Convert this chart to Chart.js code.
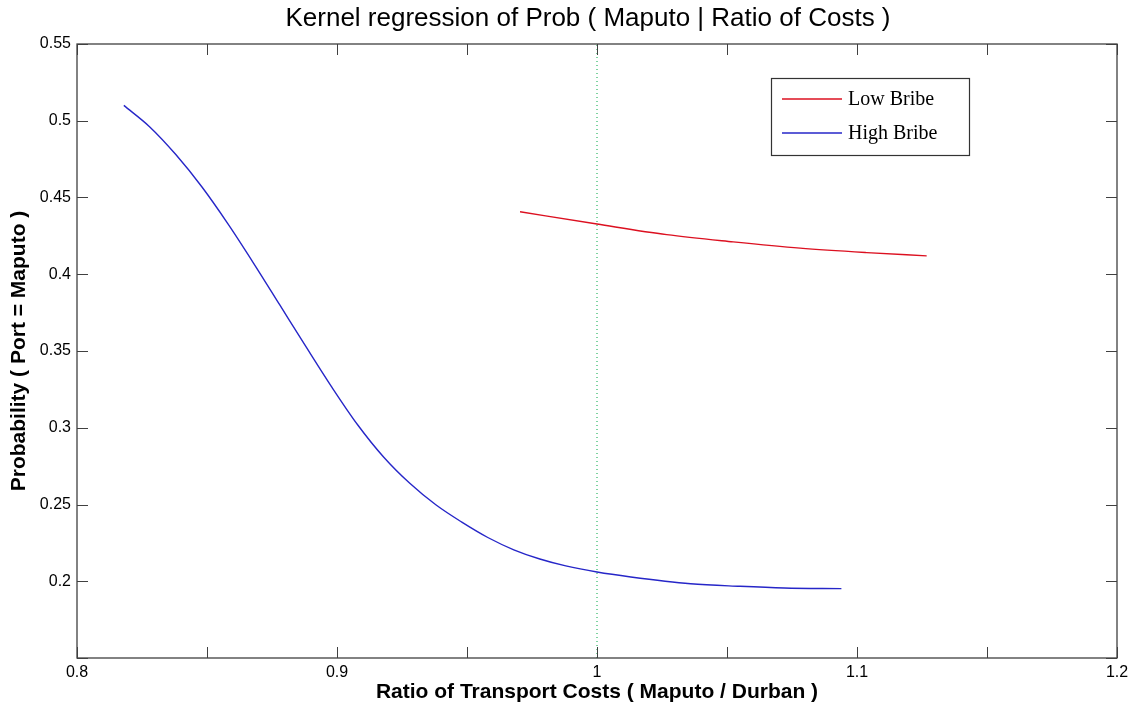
<!DOCTYPE html>
<html>
<head>
<meta charset="utf-8">
<script src="https://cdn.jsdelivr.net/npm/chart.js@4.4.0/dist/chart.umd.min.js"></script>
<style>
  html, body { margin: 0; padding: 0; background: #fff; }
  #wrap { width: 1141px; height: 713px; }
</style>
</head>
<body>
<div id="wrap"><canvas id="kernelChart" width="1141" height="713"></canvas></div>
<script>
// values
const highBribeX = [0.818, 0.828, 0.838, 0.848, 0.858, 0.868, 0.878, 0.888, 0.898, 0.908, 0.918, 0.928, 0.938, 0.948, 0.958, 0.968, 0.978, 0.988, 1.0, 1.013, 1.036, 1.055, 1.072, 1.094];
const highBribeY = [0.510, 0.496, 0.478, 0.457, 0.433, 0.407, 0.380, 0.353, 0.3265, 0.3018, 0.2808, 0.2638, 0.2498, 0.2385, 0.2285, 0.2205, 0.2145, 0.2100, 0.2060, 0.2028, 0.1984, 0.1967, 0.1956, 0.1952];
const lowBribeX = [0.9704, 1.0, 1.0268, 1.0524, 1.0781, 1.1037, 1.1268];
const lowBribeY = [0.4407, 0.4327, 0.4258, 0.4211, 0.4170, 0.4141, 0.4120];
const refLineX = [1.0, 1.0];
const refLineY = [0.15, 0.55];
const seriesNames = ['Low Bribe', 'High Bribe'];
const xTicks = [0.8, 0.85, 0.9, 0.95, 1.0, 1.05, 1.1, 1.15, 1.2];
const xLabels = ['0.8', '', '0.9', '', '1', '', '1.1', '', '1.2'];
const yTicks = [0.15, 0.2, 0.25, 0.3, 0.35, 0.4, 0.45, 0.5, 0.55];
const yLabels = ['', '0.2', '0.25', '0.3', '0.35', '0.4', '0.45', '0.5', '0.55'];

const RED = '#dc1020';
const BLUE = '#2626c8';
const FONT = '"Liberation Sans", Arial, sans-serif';

function toPoints(xs, ys) {
    return xs.map((x, i) => ({ x: x, y: ys[i] }));
}

// MATLAB style box, inward ticks, title and legend
const matlabAxes = {
    id: 'matlabAxes',
    afterDraw(chart) {
        const ctx = chart.ctx;
        const a = chart.chartArea;
        const xs = chart.scales.x, ys = chart.scales.y;
        ctx.save();
        ctx.strokeStyle = '#404040';
        ctx.lineWidth = 1.3;
        ctx.strokeRect(a.left, a.top, a.right - a.left, a.bottom - a.top);
        ctx.lineWidth = 1;
        ctx.beginPath();
        xTicks.forEach(v => {
            const px = Math.round(xs.getPixelForValue(v)) + 0.5;
            ctx.moveTo(px, a.bottom); ctx.lineTo(px, a.bottom - 11);
            ctx.moveTo(px, a.top); ctx.lineTo(px, a.top + 11);
        });
        yTicks.forEach(v => {
            const py = Math.round(ys.getPixelForValue(v)) + 0.5;
            ctx.moveTo(a.left, py); ctx.lineTo(a.left + 11, py);
            ctx.moveTo(a.right, py); ctx.lineTo(a.right - 11, py);
        });
        ctx.stroke();

        // title
        ctx.fillStyle = '#000';
        ctx.font = '26px ' + FONT;
        ctx.textAlign = 'center';
        ctx.textBaseline = 'middle';
        ctx.fillText('Kernel regression of Prob ( Maputo | Ratio of Costs )', 588, 19);

        // legend
        const lx = 771, ly = 78, lw = 198, lh = 77;
        ctx.fillStyle = '#fff';
        ctx.fillRect(lx, ly, lw, lh);
        ctx.strokeStyle = '#333';
        ctx.lineWidth = 1.2;
        ctx.strokeRect(lx + 0.5, ly + 0.5, lw, lh);
        const rows = [[seriesNames[0], RED, 99], [seriesNames[1], BLUE, 133]];
        ctx.font = '20px "Liberation Serif", "Times New Roman", serif';
        ctx.textAlign = 'left';
        rows.forEach(r => {
            ctx.strokeStyle = r[1];
            ctx.lineWidth = 1.6;
            ctx.beginPath();
            ctx.moveTo(782, r[2]); ctx.lineTo(842, r[2]);
            ctx.stroke();
            ctx.fillStyle = '#000';
            ctx.fillText(r[0], 848, r[2] + 1);
        });
        ctx.restore();
    }
};

new Chart(document.getElementById('kernelChart'), {
    type: 'line',
    data: {
        datasets: [
            {
                label: seriesNames[0],
                data: toPoints(lowBribeX, lowBribeY),
                borderColor: RED,
                borderWidth: 1.4,
                pointRadius: 0,
                cubicInterpolationMode: 'monotone'
            },
            {
                label: seriesNames[1],
                data: toPoints(highBribeX, highBribeY),
                borderColor: BLUE,
                borderWidth: 1.4,
                pointRadius: 0,
                cubicInterpolationMode: 'monotone'
            },
            {
                label: 'ref',
                data: toPoints(refLineX, refLineY),
                borderColor: '#00a844',
                borderWidth: 1,
                borderDash: [1, 3],
                pointRadius: 0
            }
        ]
    },
    options: {
        responsive: false,
        animation: false,
        layout: { padding: { top: 44, right: 24, left: 0, bottom: 0 } },
        plugins: {
            legend: { display: false },
            tooltip: { enabled: false }
        },
        scales: {
            x: {
                type: 'linear',
                min: 0.8,
                max: 1.2,
                afterFit: s => { s.height = 55; },
                afterBuildTicks: s => { s.ticks = xTicks.map(v => ({ value: v })); },
                grid: { display: false, drawTicks: false },
                border: { display: false },
                ticks: {
                    padding: 5,
                    autoSkip: false,
                    maxRotation: 0,
                    color: '#000',
                    font: { family: FONT, size: 16 },
                    callback: (v, i) => xLabels[i]
                },
                title: {
                    display: true,
                    text: 'Ratio of Transport Costs ( Maputo / Durban )',
                    color: '#000',
                    font: { family: FONT, size: 21, weight: 'bold' },
                    padding: { top: 0, bottom: 8 }
                }
            },
            y: {
                min: 0.15,
                max: 0.55,
                afterFit: s => { s.width = 77; },
                afterBuildTicks: s => { s.ticks = yTicks.map(v => ({ value: v })); },
                grid: { display: false, drawTicks: false },
                border: { display: false },
                ticks: {
                    padding: 6,
                    autoSkip: false,
                    color: '#000',
                    font: { family: FONT, size: 16 },
                    callback: (v, i) => yLabels[i]
                },
                title: {
                    display: true,
                    text: 'Probability ( Port = Maputo )',
                    color: '#000',
                    font: { family: FONT, size: 21, weight: 'bold' },
                    padding: { top: 7, bottom: 0 }
                }
            }
        }
    },
    plugins: [matlabAxes]
});
</script>
</body>
</html>
